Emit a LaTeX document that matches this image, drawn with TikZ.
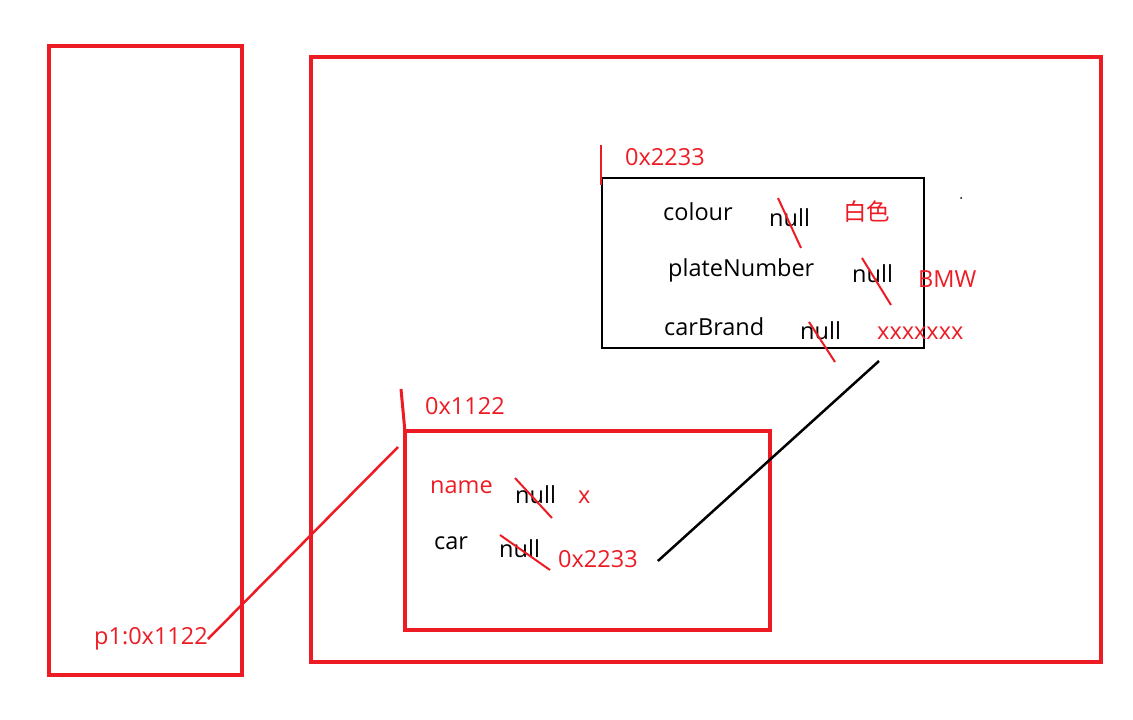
\documentclass[tikz,border=0pt]{standalone}
\usepackage{fontspec}
\setmainfont{Open Sans}
\newfontfamily\cjk{Noto Sans CJK SC}
\usetikzlibrary{positioning}
\definecolor{inkred}{RGB}{237,28,36}

\begin{document}
\begin{tikzpicture}[x=1pt, y=-1pt, >=stealth,
  box/.style={draw=inkred, line width=4pt},
  objbox/.style={draw=black, line width=2.5pt},
  field/.style={anchor=west, inner sep=0pt, font=\fontsize{23.5}{28}\selectfont},
  val/.style={field, text=inkred},
  strike/.style={draw=inkred, line width=2pt},
  link/.style={line width=2.5pt}]

\useasboundingbox (0,0) rectangle (1133,720);

% stack and heap
\draw [box] (49,46) rectangle (242,675);
\draw [box] (311,57) rectangle (1101,662);

% car object
\draw [objbox] (602,178) rectangle (924,348);
\draw [strike, line width=2.5pt] (601,145) -- (601,185);
\node (addr-car) [val] at (625,157) {0x2233};

\node (colour) [field] at (663,212) {colour};
\node (colour-null) [field] at (769,218) {null};
\node (colour-val) [val] at (843,212) {\cjk 白色};

\node (plate) [field] at (668,270) {plateNumber};
\node (plate-null) [field] at (852,274) {null};
\node (plate-val) [val] at (918,279) {BMW};

\node (brand) [field] at (664,327) {carBrand};
\node (brand-null) [field] at (800,331) {null};
\node (brand-val) [val] at (877,333) {xxxxxxx};

\draw [strike] (778,198) -- (801,248);
\draw [strike] (862,258) -- (891,305);
\draw [strike] (809,322) -- (835,362);

\fill (961,198) circle (1);

% person object
\draw [box] (405,431) rectangle (770,630);
\draw [strike, line width=3pt] (401,389) -- (405,432);
\node (addr-person) [val] at (425,406) {0x1122};

\node (name) [val] at (430,487) {name};
\node (name-null) [field] at (515,495) {null};
\node (name-val) [val] at (578,497) {x};

\node (car) [field] at (434,543) {car};
\node (car-null) [field] at (499,549) {null};
\node (car-val) [val] at (558,559) {0x2233};

\draw [strike] (515,478) -- (552,518);
\draw [strike] (500,535) -- (550,570);

% variable on stack
\node (p1) [val] at (94,639) {p1:0x1122};

% references
\coordinate (person-ref) at (398,447);
\coordinate (car-ref) at (879,361);
\draw [link, inkred] (p1.east) -- (person-ref);
\draw [link] (car-val.east) ++(20,2) -- (car-ref);

\end{tikzpicture}
\end{document}
